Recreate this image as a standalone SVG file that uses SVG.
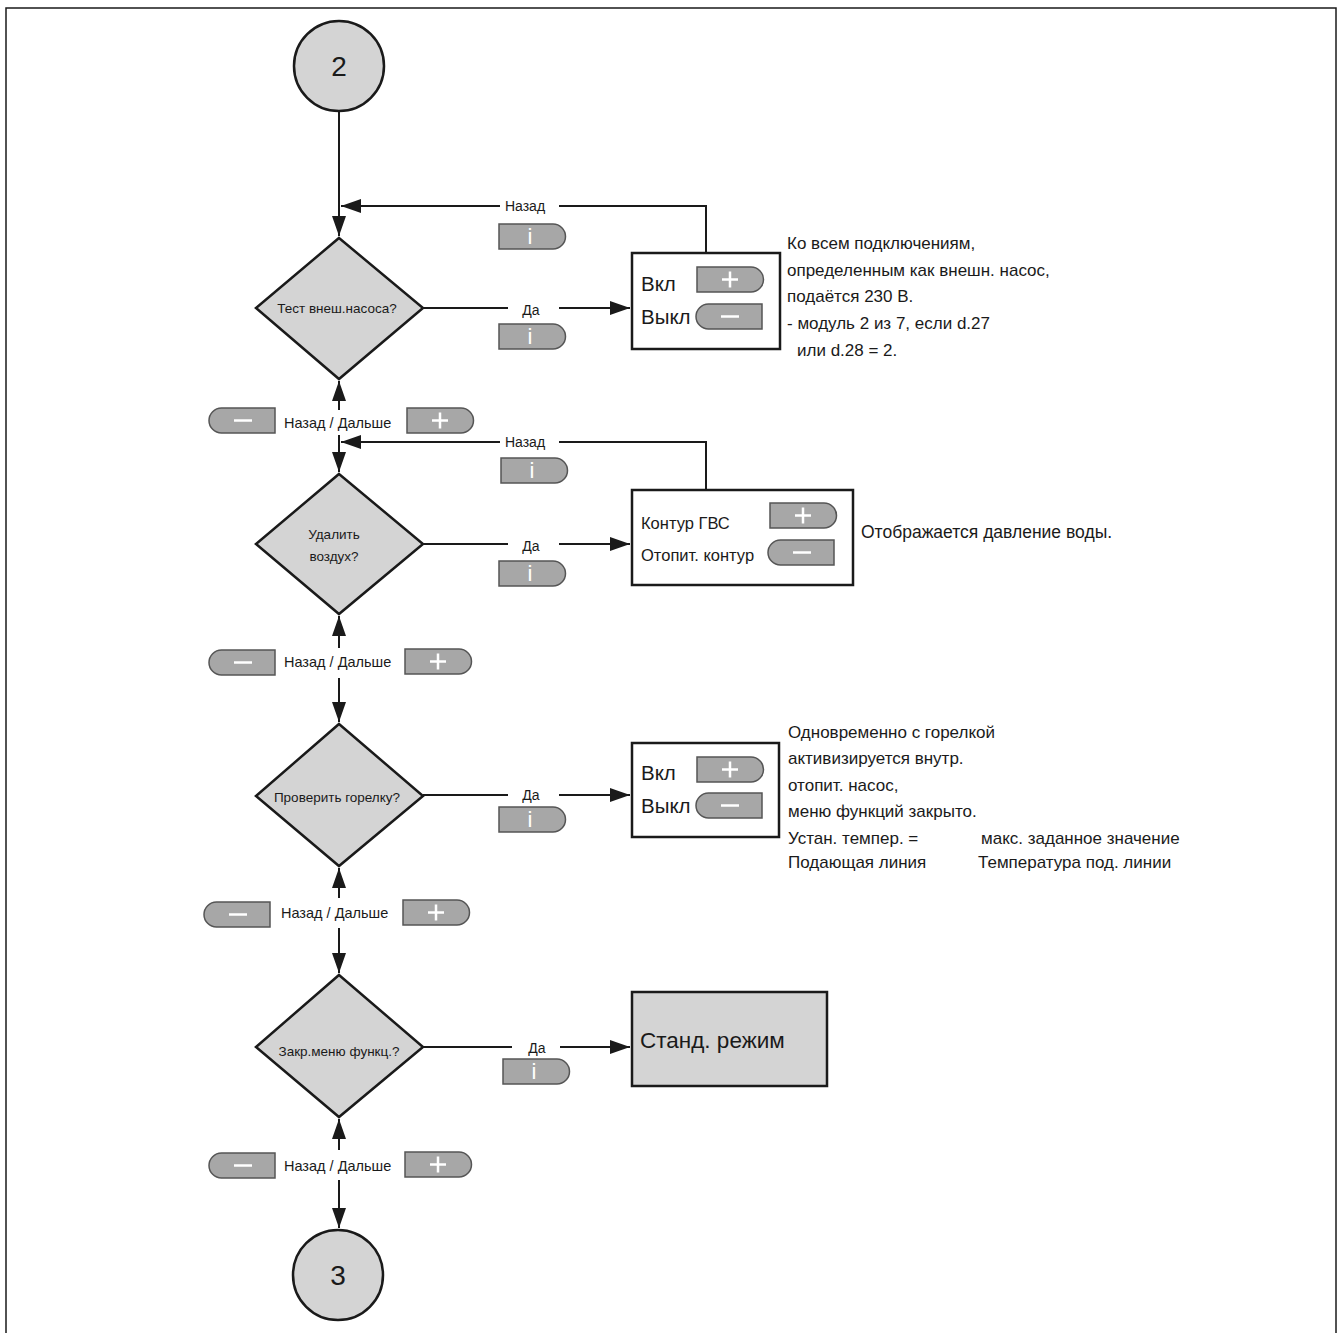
<svg xmlns="http://www.w3.org/2000/svg" xmlns:xlink="http://www.w3.org/1999/xlink" width="1339" height="1333" viewBox="0 0 1339 1333">
<style>
text{font-family:"Liberation Sans","DejaVu Sans",sans-serif;fill:#1a1a1a}
.node{fill:#d4d4d4;stroke:#1a1a1a;stroke-width:2.5}
.box{fill:#fff;stroke:#1a1a1a;stroke-width:2.5}
.conn{fill:none;stroke:#1a1a1a;stroke-width:2}
.btn{fill:#a7a7a7;stroke:#555;stroke-width:1.5}
.sym{stroke:#fff;stroke-width:2.5;fill:none}
.itxt{fill:#fff;font-size:22px;text-anchor:middle}
.lbl{font-size:14px}
.nav{font-size:14.5px}
.note{font-size:17px}
.dtxt{font-size:13.5px;text-anchor:middle}
</style>
<defs>
<marker id="ah" viewBox="0 0 20 14" refX="20" refY="7" markerWidth="20" markerHeight="14" markerUnits="userSpaceOnUse" orient="auto"><path d="M0,0 L20,7 L0,14 z" fill="#1a1a1a"/></marker>
<path id="btnR" d="M0,0 H54 A12.5,12.5 0 0 1 54,25 H0 Z"/>
<path id="btnL" d="M12.5,0 H66 V25 H12.5 A12.5,12.5 0 0 1 12.5,0 Z"/>
</defs>
<rect x="6" y="8" width="1330" height="1340" fill="none" stroke="#1a1a1a" stroke-width="1.5"/>

<g id="connectors">
<path class="conn" d="M339,111 V236" marker-end="url(#ah)"/>
<path class="conn" d="M706,253 V206 H559"/>
<path class="conn" d="M500,206 H341" marker-end="url(#ah)"/>
<path class="conn" d="M423,308 H508"/>
<path class="conn" d="M559,308 H630" marker-end="url(#ah)"/>
<path class="conn" d="M339,410 V381" marker-end="url(#ah)"/>
<path class="conn" d="M339,435 V472" marker-end="url(#ah)"/>
<path class="conn" d="M706,490 V442 H559"/>
<path class="conn" d="M500,442 H341" marker-end="url(#ah)"/>
<path class="conn" d="M423,544 H508"/>
<path class="conn" d="M559,544 H630" marker-end="url(#ah)"/>
<path class="conn" d="M339,648 V616" marker-end="url(#ah)"/>
<path class="conn" d="M339,678 V722" marker-end="url(#ah)"/>
<path class="conn" d="M423,795 H508"/>
<path class="conn" d="M559,795 H630" marker-end="url(#ah)"/>
<path class="conn" d="M339,898 V868" marker-end="url(#ah)"/>
<path class="conn" d="M339,928 V973" marker-end="url(#ah)"/>
<path class="conn" d="M423,1047 H512"/>
<path class="conn" d="M560,1047 H630" marker-end="url(#ah)"/>
<path class="conn" d="M339,1150 V1119" marker-end="url(#ah)"/>
<path class="conn" d="M339,1180 V1228" marker-end="url(#ah)"/>
</g>

<g id="labels">
<text class="lbl" x="525" y="211" text-anchor="middle">Назад</text>
<use href="#btnR" class="btn" x="499" y="224"/><text class="itxt" x="530" y="244">i</text>
<text class="lbl" x="531" y="315" text-anchor="middle">Да</text>
<use href="#btnR" class="btn" x="499" y="324"/><text class="itxt" x="530" y="344">i</text>

<use href="#btnL" class="btn" x="209" y="408"/><path class="sym" d="M234,420.5 H252"/>
<text class="nav" x="284" y="428">Назад / Дальше</text>
<use href="#btnR" class="btn" x="407" y="408"/><path class="sym" d="M432,420.5 H448 M440,412.5 V428.5"/>

<text class="lbl" x="525" y="447" text-anchor="middle">Назад</text>
<use href="#btnR" class="btn" x="501" y="458"/><text class="itxt" x="532" y="478">i</text>
<text class="lbl" x="531" y="551" text-anchor="middle">Да</text>
<use href="#btnR" class="btn" x="499" y="561"/><text class="itxt" x="530" y="581">i</text>

<use href="#btnL" class="btn" x="209" y="650"/><path class="sym" d="M234,662.5 H252"/>
<text class="nav" x="284" y="667">Назад / Дальше</text>
<use href="#btnR" class="btn" x="405" y="649"/><path class="sym" d="M430,661.5 H446 M438,653.5 V669.5"/>

<text class="lbl" x="531" y="800" text-anchor="middle">Да</text>
<use href="#btnR" class="btn" x="499" y="807"/><text class="itxt" x="530" y="827">i</text>

<use href="#btnL" class="btn" x="204" y="902"/><path class="sym" d="M229,914.5 H247"/>
<text class="nav" x="281" y="918">Назад / Дальше</text>
<use href="#btnR" class="btn" x="403" y="900"/><path class="sym" d="M428,912.5 H444 M436,904.5 V920.5"/>

<text class="lbl" x="537" y="1053" text-anchor="middle">Да</text>
<use href="#btnR" class="btn" x="503" y="1059"/><text class="itxt" x="534" y="1079">i</text>

<use href="#btnL" class="btn" x="209" y="1153"/><path class="sym" d="M234,1165.5 H252"/>
<text class="nav" x="284" y="1171">Назад / Дальше</text>
<use href="#btnR" class="btn" x="405" y="1152"/><path class="sym" d="M430,1164.5 H446 M438,1156.5 V1172.5"/>
</g>

<g id="start2">
<circle class="node" cx="339" cy="66" r="45"/>
<text x="339" y="76" font-size="28" text-anchor="middle">2</text>
</g>

<g id="decision1">
<polygon class="node" points="339,238 423,308 339,379 256,308"/>
<text class="dtxt" x="337" y="313">Тест внеш.насоса?</text>
</g>

<g id="box1">
<rect class="box" x="632" y="253" width="148" height="96"/>
<text x="641" y="291" font-size="20.5">Вкл</text>
<text x="641" y="324" font-size="20.5">Выкл</text>
<use href="#btnR" class="btn" x="697" y="267"/><path class="sym" d="M722,279.5 H738 M730,271.5 V287.5"/>
<use href="#btnL" class="btn" x="696" y="304"/><path class="sym" d="M721,316.5 H739"/>
</g>

<g id="note1">
<text class="note" x="787" y="249">Ко всем подключениям,</text>
<text class="note" x="787" y="276">определенным как внешн. насос,</text>
<text class="note" x="787" y="302">подаётся 230 В.</text>
<text class="note" x="787" y="329">- модуль 2 из 7, если d.27</text>
<text class="note" x="797" y="356">или d.28 = 2.</text>
</g>

<g id="decision2">
<polygon class="node" points="339,474 423,544 339,614 256,544"/>
<text class="dtxt" x="334" y="539">Удалить</text>
<text class="dtxt" x="334" y="561">воздух?</text>
</g>

<g id="box2">
<rect class="box" x="632" y="490" width="221" height="95"/>
<text x="641" y="529" font-size="16.5">Контур ГВС</text>
<text x="641" y="561" font-size="16.5">Отопит. контур</text>
<use href="#btnR" class="btn" x="770" y="503"/><path class="sym" d="M795,515.5 H811 M803,507.5 V523.5"/>
<use href="#btnL" class="btn" x="768" y="540"/><path class="sym" d="M793,552.5 H811"/>
</g>

<g id="note2">
<text x="861" y="538" font-size="17.5">Отображается давление воды.</text>
</g>

<g id="decision3">
<polygon class="node" points="339,724 423,796 339,866 256,796"/>
<text class="dtxt" x="337" y="802">Проверить горелку?</text>
</g>

<g id="box3">
<rect class="box" x="632" y="743" width="147" height="94"/>
<text x="641" y="780" font-size="20.5">Вкл</text>
<text x="641" y="813" font-size="20.5">Выкл</text>
<use href="#btnR" class="btn" x="697" y="757"/><path class="sym" d="M722,769.5 H738 M730,761.5 V777.5"/>
<use href="#btnL" class="btn" x="696" y="793"/><path class="sym" d="M721,805.5 H739"/>
</g>

<g id="note3">
<text class="note" x="788" y="738">Одновременно с горелкой</text>
<text class="note" x="788" y="764">активизируется внутр.</text>
<text class="note" x="788" y="791">отопит. насос,</text>
<text class="note" x="788" y="817">меню функций закрыто.</text>
<text class="note" x="788" y="844">Устан. темпер.  =</text>
<text class="note" x="981" y="844">макс. заданное значение</text>
<text class="note" x="788" y="868">Подающая линия</text>
<text class="note" x="978" y="868">Температура под. линии</text>
</g>

<g id="decision4">
<polygon class="node" points="339,975 423,1047 339,1117 256,1047"/>
<text class="dtxt" x="339" y="1056">Закр.меню функц.?</text>
</g>

<g id="box4">
<rect class="node" x="632" y="992" width="195" height="94"/>
<text x="640" y="1048" font-size="22.5">Станд. режим</text>
</g>

<g id="end3">
<circle class="node" cx="338" cy="1275" r="45"/>
<text x="338" y="1285" font-size="28" text-anchor="middle">3</text>
</g>
</svg>
